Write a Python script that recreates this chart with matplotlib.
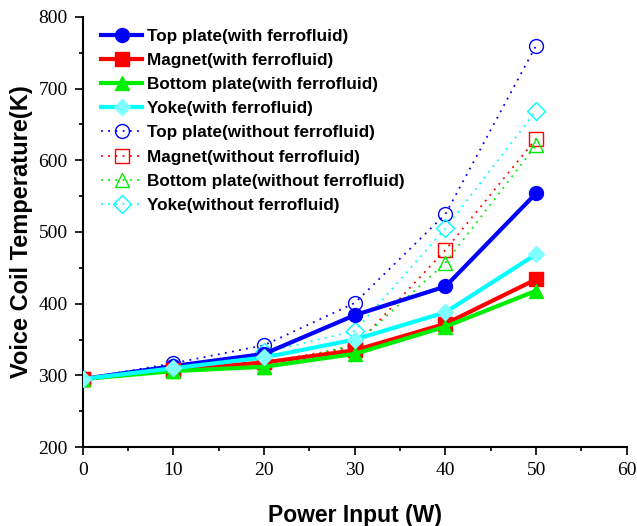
import matplotlib
matplotlib.use("Agg")
import matplotlib.pyplot as plt
from matplotlib.ticker import MultipleLocator

# Power input (W)
power = [0, 10, 20, 30, 40, 50]

# with ferrofluid
top_with = [295, 313, 330, 384, 424, 554]
magnet_with = [295, 308, 318, 335, 372, 434]
bottom_with = [295, 306, 312, 330, 368, 418]
yoke_with = [295, 310, 325, 350, 388, 469]

# without ferrofluid
top_without = [295, 317, 342, 401, 525, 760]
magnet_without = [295, 308, 318, 340, 475, 630]
bottom_without = [295, 306, 312, 343, 457, 621]
yoke_without = [295, 312, 332, 362, 505, 669]

labels_with = ["Top plate(with ferrofluid)", "Magnet(with ferrofluid)",
               "Bottom plate(with ferrofluid)", "Yoke(with ferrofluid)"]
labels_without = ["Top plate(without ferrofluid)", "Magnet(without ferrofluid)",
                  "Bottom plate(without ferrofluid)", "Yoke(without ferrofluid)"]
colors = ["#0000ff", "#ff0000", "#00ee00", "#00ffff"]
markers = ["o", "s", "^", "D"]

fig = plt.figure(figsize=(6.37, 5.26), dpi=100)
ax = fig.add_axes([0.130, 0.150, 0.854, 0.818])

for y, lab, c, m in zip([top_with, magnet_with, bottom_with, yoke_with], labels_with, colors, markers):
    mfc = "#80ffff" if c == "#00ffff" else c
    ax.plot(power, y, color=c, lw=3, marker=m, ms=10 if m != "D" else 8,
            mfc=mfc, mec=mfc, label=lab, zorder=3)

for y, lab, c, m in zip([top_without, magnet_without, bottom_without, yoke_without], labels_without, colors, markers):
    ax.plot(power, y, color=c, lw=1.3, ls=(0, (1, 3)), marker=m, ms=10 if m != "D" else 9,
            mfc="none", mec=c, mew=1, label=lab, zorder=2)

ax.set_xlim(0, 60)
ax.set_ylim(200, 800)
ax.xaxis.set_major_locator(MultipleLocator(10))
ax.xaxis.set_minor_locator(MultipleLocator(5))
ax.yaxis.set_major_locator(MultipleLocator(100))
ax.yaxis.set_minor_locator(MultipleLocator(50))
ax.tick_params(which="major", direction="out", length=6, width=1.2, pad=5)
ax.tick_params(which="minor", direction="out", length=3, width=1.2)

ax.spines["top"].set_visible(False)
ax.spines["right"].set_visible(False)
ax.spines["left"].set_linewidth(1.5)
ax.spines["bottom"].set_linewidth(1.5)

for t in ax.get_xticklabels() + ax.get_yticklabels():
    t.set_fontfamily("Liberation Serif")
    t.set_fontsize(14)

ax.set_xlabel("Power Input (W)", fontsize=16.5, fontweight="bold",
              fontfamily="Liberation Sans", labelpad=18)
ax.set_ylabel("Voice Coil Temperature(K)", fontsize=17, fontweight="bold",
              fontfamily="Liberation Sans", labelpad=4)

ax.legend(loc="upper left", bbox_to_anchor=(0.015, 0.995), frameon=False,
          prop={"family": "Liberation Sans", "weight": "bold", "size": 12.3},
          handlelength=2.4, handletextpad=0.3, labelspacing=0.53, borderaxespad=0.2)

fig.savefig("out.png", dpi=100)
